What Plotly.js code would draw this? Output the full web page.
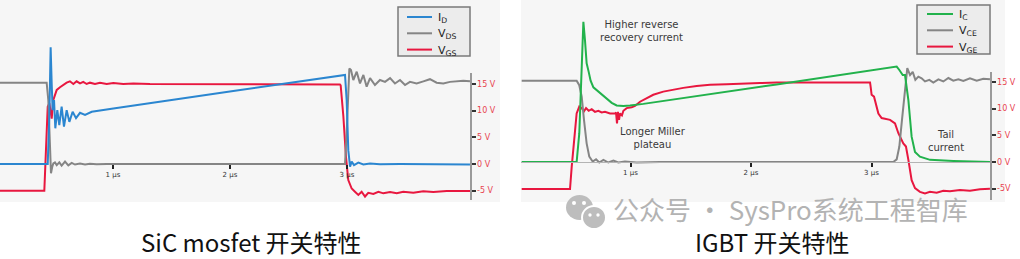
<!DOCTYPE html>
<html>
<head>
<meta charset="utf-8">
<script src="https://cdn.plot.ly/plotly-3.0.1.min.js"></script>
<style>
  html, body { margin: 0; padding: 0; background: #ffffff; }
  #chart { width: 1020px; height: 259px; }
</style>
</head>
<body>
<div id="chart"></div>
<script>
// ---------------- DATA (time in µs, values on the volt scale) ----------------
// SiC MOSFET panel
const sicIdT  = [0.034,0.442,0.456,0.467,0.476,0.484,0.496,0.507,0.524,0.541,0.561,0.581,0.604,0.627,0.655,0.684,0.718,0.761,0.818,0.889,1.003,2.028,2.983,2.997,3.011,3.026,3.040,3.060,3.097,3.140,3.197,3.282,3.453,4.051];
const sicId   = [0,0,8.9,21.9,15.1,10.1,12.0,6.7,10.1,7.3,10.75,7.0,10.1,7.9,9.8,8.6,9.6,9.2,9.8,10.0,10.4,13.7,16.7,12.0,2.6,-0.5,0.45,-0.2,0.25,-0.1,0.1,-0.05,0,-0.1];

const sicVdsT = [0.034,0.433,0.447,0.462,0.470,0.481,0.490,0.504,0.519,0.541,0.561,0.590,0.618,0.647,0.675,0.718,0.761,0.803,0.860,0.946,2.983,2.997,3.011,3.020,3.034,3.054,3.083,3.111,3.140,3.168,3.197,3.239,3.282,3.325,3.368,3.410,3.453,3.496,3.538,3.595,3.653,3.709,3.766,3.823,3.880,3.937,3.994,4.051];
const sicVds  = [15.25,15.25,12.0,2.0,-1.75,-0.5,0.1,0.3,-0.2,0.3,-0.3,0.45,-0.25,0.2,-0.1,0.1,-0.1,0.05,-0.05,0,0,5.75,14.5,17.9,17.6,15.75,17.3,15.1,16.7,14.5,16.1,14.8,15.75,15.4,16.1,15.1,15.75,14.8,15.4,15.1,15.5,15.9,15.25,15.1,15.4,15.5,15.6,15.5];

const sicVgsT = [0.034,0.413,0.427,0.442,0.456,0.467,0.476,0.490,0.504,0.519,0.547,0.575,0.604,0.632,0.661,0.689,0.718,0.746,0.775,0.803,0.846,0.889,0.946,1.003,1.088,1.174,1.316,2.940,2.946,2.969,2.991,3.011,3.040,3.068,3.097,3.125,3.154,3.182,3.225,3.268,3.311,3.368,3.425,3.481,3.567,3.652,3.738,3.852,3.966,4.051];
const sicVgs  = [-5,-5,2.6,10.75,11.4,9.5,8.5,12.0,12.9,13.9,14.4,14.9,15.25,15.5,15.0,15.5,15.1,15.4,15.0,15.25,15.0,15.25,15.0,15.2,15.0,15.1,15.0,14.9,14.75,8.9,1.4,-3.0,-4.6,-5.2,-5.8,-5.2,-6.1,-5.4,-5.6,-5.2,-5.5,-5.25,-5.5,-5.2,-5.4,-5.1,-5.25,-5.06,-5.1,-5.06];

// IGBT panel
const igbtIcT  = [0.097,0.553,0.575,0.592,0.609,0.622,0.636,0.653,0.669,0.692,0.714,0.733,0.761,0.802,0.844,0.885,0.941,0.996,1.107,2.213,3.209,3.231,3.259,3.278,3.306,3.333,3.361,3.402,3.486,3.679,3.983];
const igbtIc   = [0,0,5.4,17.9,26.3,22.9,18.5,16.9,15.25,14.0,13.6,13.2,12.6,11.9,11.1,10.6,10.5,10.6,10.9,14.55,17.9,17.25,16.3,16.3,11.6,4.75,1.9,1.0,0.4,0.2,0];

const igbtVceT = [0.097,0.553,0.575,0.595,0.614,0.636,0.658,0.686,0.714,0.741,0.775,0.816,0.858,0.899,0.954,1.051,1.245,3.181,3.209,3.231,3.253,3.275,3.297,3.320,3.342,3.364,3.389,3.416,3.444,3.480,3.513,3.555,3.596,3.638,3.679,3.721,3.762,3.817,3.873,3.928,3.983];
const igbtVce  = [15.25,15.25,14.4,12.25,7.9,3.5,1.0,0.1,0.5,-0.1,0.4,-0.1,0.25,-0.1,0.1,-0.1,0,0,0.5,2.9,7.9,13.5,17.6,16.3,16.9,15.4,16.0,15.7,15.1,15.4,14.9,15.5,15.1,15.75,15.25,15.5,15.2,15.7,15.25,15.6,15.5];

const igbtVgeT = [0.097,0.498,0.512,0.531,0.553,0.575,0.595,0.614,0.631,0.653,0.678,0.705,0.733,0.761,0.788,0.830,0.871,0.880,0.888,0.896,0.905,0.913,0.929,0.941,0.968,1.010,1.037,1.079,1.134,1.189,1.272,1.355,1.438,1.549,1.660,1.798,1.936,2.075,2.213,2.988,2.993,3.001,3.021,3.057,3.084,3.154,3.195,3.223,3.264,3.286,3.306,3.333,3.361,3.402,3.444,3.485,3.541,3.596,3.651,3.734,3.817,3.900,3.983];
const igbtVge  = [-5.06,-5.06,-0.9,4.1,9.1,10.4,10.1,9.5,10.1,9.6,9.9,9.4,9.6,9.3,9.4,9.1,9.1,9.25,7.25,9.4,7.9,9.1,8.75,9.6,10.1,10.25,10.5,11.3,11.9,12.6,13.2,13.6,13.9,14.25,14.5,14.6,14.75,14.8,14.9,14.9,14.1,12.6,12.25,9.1,8.25,7.9,7.25,5.4,3.5,2.9,0.4,-3.4,-4.9,-5.6,-5.9,-5.6,-5.75,-5.4,-5.5,-5.25,-5.4,-5.1,-5.0];

// Names, colours, ticks, captions
const sicNames   = ['I<sub>D</sub>', 'V<sub>DS</sub>', 'V<sub>GS</sub>'];
const igbtNames  = ['I<sub>C</sub>', 'V<sub>CE</sub>', 'V<sub>GE</sub>'];
const sicColors  = ['#2b86d0', '#858585', '#e8173f'];
const igbtColors = ['#22b24c', '#858585', '#e8173f'];
const timeTickVals = [1, 2, 3];
const timeTickText = ['1 μs', '2 μs', '3 μs'];
const voltTickVals = [-5, 0, 5, 10, 15];
const sicVoltTickText  = ['-5 V', '0 V', '5 V', '10 V', '15 V'];
const igbtVoltTickText = ['-5V', '0 V', '5 V', '10 V', '15 V'];
const captions = ['SiC mosfet 开关特性', 'IGBT 开关特性'];
const notes = [
  {text: 'Higher reverse<br>recovery current', t: 1.095, v: 24.6},
  {text: 'Longer Miller<br>plateau', t: 1.187, v: 4.5},
  {text: 'Tail<br>current', t: 3.618, v: 3.9}
];
const watermark = '公众号 · SysPro系统工程智库';

// ---------------- GEOMETRY (pixels) ----------------
const W = 1020, H = 259;
const PX = p => p / W;
const PY = p => 1 - p / H;

// left panel scale
const L = {x0: 0, x1: 470, t0px: -4, pxPerUs: 117, zeroPy: 164, pxPerV: 16 / 3, top: 0, bot: 202, axTop: 73, axBot: 200};
// right panel scale
const R = {x0: 521, x1: 990, t0px: 510, pxPerUs: 120.5, zeroPy: 162, pxPerV: 16 / 3, top: 0, bot: 202, axTop: 72, axBot: 200};

const tAt = (P, px) => (px - P.t0px) / P.pxPerUs;
const vAt = (P, py) => (P.zeroPy - py) / P.pxPerV;

function xAxis(P, tickText) {
  return {
    domain: [PX(P.x0), PX(P.x1)], range: [tAt(P, P.x0), tAt(P, P.x1)],
    anchor: 'free', position: PY(P.zeroPy),
    showgrid: false, zeroline: false, showline: false,
    ticks: 'outside', ticklen: 4, tickwidth: 2, tickcolor: '#222',
    tickvals: timeTickVals, ticktext: tickText,
    tickfont: {family: 'DejaVu Sans', size: 7, color: '#333'},
    fixedrange: true
  };
}
function yTraceAxis(P, xa) {
  return {
    domain: [PY(P.bot), PY(P.top)], range: [vAt(P, P.bot), vAt(P, P.top)],
    anchor: xa, visible: false, fixedrange: true
  };
}
function yShownAxis(P, xa, tickText, zero) {
  return {
    domain: [PY(P.axBot), PY(P.axTop)], range: [vAt(P, P.axBot), vAt(P, P.axTop)],
    anchor: xa, side: 'right',
    showgrid: false, zeroline: zero, zerolinecolor: '#b4b4b4', zerolinewidth: 1,
    showline: true, linecolor: '#9a9a9a', linewidth: 1.5,
    ticks: 'outside', ticklen: 4, tickwidth: 2, tickcolor: '#333',
    tickvals: voltTickVals, ticktext: tickText,
    tickfont: {family: 'DejaVu Sans', size: 8, color: '#e8424f'},
    fixedrange: true
  };
}

// ---------------- TRACES ----------------
function line(x, y, color, xa, ya) {
  return {type: 'scatter', mode: 'lines', x: x, y: y, xaxis: xa, yaxis: ya,
          line: {color: color, width: 2}, showlegend: false, hoverinfo: 'skip'};
}
const traces = [
  line(sicVgsT, sicVgs, sicColors[2], 'x', 'y'),
  line(sicVdsT, sicVds, sicColors[1], 'x', 'y'),
  line(sicIdT, sicId, sicColors[0], 'x', 'y'),
  line(igbtVgeT, igbtVge, igbtColors[2], 'x2', 'y2'),
  line(igbtVceT, igbtVce, igbtColors[1], 'x2', 'y2'),
  line(igbtIcT, igbtIc, igbtColors[0], 'x2', 'y2'),
  // carriers for the visible voltage axes
  {type: 'scatter', mode: 'lines', x: [null], y: [null], xaxis: 'x', yaxis: 'y3', showlegend: false, hoverinfo: 'skip'},
  {type: 'scatter', mode: 'lines', x: [null], y: [null], xaxis: 'x2', yaxis: 'y4', showlegend: false, hoverinfo: 'skip'}
];

// ---------------- SHAPES & ANNOTATIONS ----------------
const shapes = [];
const annotations = [];

// panel backgrounds
shapes.push({type: 'rect', xref: 'paper', yref: 'paper', layer: 'below',
  x0: PX(0), x1: PX(500), y0: PY(202), y1: PY(0), fillcolor: '#f6f6f6', line: {width: 0}});
shapes.push({type: 'rect', xref: 'paper', yref: 'paper', layer: 'below',
  x0: PX(521), x1: PX(1005), y0: PY(202), y1: PY(0), fillcolor: '#f6f6f6', line: {width: 0}});

// legends (box + samples + labels)
function legend(box, names, colors) {
  shapes.push({type: 'rect', xref: 'paper', yref: 'paper', layer: 'above',
    x0: PX(box.x0), x1: PX(box.x1), y0: PY(box.y1), y1: PY(box.y0),
    fillcolor: '#ececec', line: {color: '#7a7a7a', width: 1.5}});
  names.forEach((n, i) => {
    const yy = box.row0 + i * box.dy;
    shapes.push({type: 'line', xref: 'paper', yref: 'paper', layer: 'above',
      x0: PX(box.lx0), x1: PX(box.lx1), y0: PY(yy), y1: PY(yy),
      line: {color: colors[i], width: 2}});
    annotations.push({xref: 'paper', yref: 'paper', x: PX(box.tx), y: PY(yy + 1),
      xanchor: 'left', yanchor: 'middle', showarrow: false, text: n,
      font: {family: 'DejaVu Sans', size: 11, color: '#222'}});
  });
}
legend({x0: 398, x1: 470, y0: 7, y1: 56, row0: 17, dy: 16.3, lx0: 407, lx1: 432, tx: 436}, sicNames, sicColors);
legend({x0: 917, x1: 990, y0: 5, y1: 54, row0: 14, dy: 16.3, lx0: 927, lx1: 953, tx: 957}, igbtNames, igbtColors);

// annotations on the IGBT panel
notes.forEach(n => annotations.push({xref: 'x2', yref: 'y2', x: n.t, y: n.v,
  xanchor: 'center', yanchor: 'middle', showarrow: false, text: n.text,
  font: {family: 'DejaVu Sans', size: 10, color: '#3a3a3a'}}));

// watermark icon (two speech bubbles)
shapes.push({type: 'circle', xref: 'paper', yref: 'paper', layer: 'above',
  x0: PX(566), x1: PX(593), y0: PY(220), y1: PY(195), fillcolor: '#bdbdbd', line: {width: 0}});
shapes.push({type: 'circle', xref: 'paper', yref: 'paper', layer: 'above',
  x0: PX(582), x1: PX(606), y0: PY(229), y1: PY(206), fillcolor: '#bdbdbd', line: {color: '#ffffff', width: 2}});
[[574, 203], [584, 203]].forEach(p => shapes.push({type: 'circle', xref: 'paper', yref: 'paper', layer: 'above',
  x0: PX(p[0] - 2), x1: PX(p[0] + 2), y0: PY(p[1] + 2), y1: PY(p[1] - 2), fillcolor: '#ffffff', line: {width: 0}}));
[[590, 215], [598, 215]].forEach(p => shapes.push({type: 'circle', xref: 'paper', yref: 'paper', layer: 'above',
  x0: PX(p[0] - 1.7), x1: PX(p[0] + 1.7), y0: PY(p[1] + 1.7), y1: PY(p[1] - 1.7), fillcolor: '#ffffff', line: {width: 0}}));

annotations.push({xref: 'paper', yref: 'paper', x: PX(611), y: PY(208), xanchor: 'left', yanchor: 'middle',
  showarrow: false, text: watermark,
  font: {family: 'Noto Sans CJK SC', size: 26, color: '#b3b3b3'}});

// captions
annotations.push({xref: 'paper', yref: 'paper', x: PX(251), y: PY(241), xanchor: 'center', yanchor: 'middle',
  showarrow: false, text: captions[0], font: {family: 'Noto Sans CJK SC', size: 24, color: '#111'}});
annotations.push({xref: 'paper', yref: 'paper', x: PX(772), y: PY(241), xanchor: 'center', yanchor: 'middle',
  showarrow: false, text: captions[1], font: {family: 'Noto Sans CJK SC', size: 24, color: '#111'}});

const layout = {
  width: W, height: H,
  margin: {l: 0, r: 0, t: 0, b: 0, pad: 0},
  paper_bgcolor: '#ffffff', plot_bgcolor: 'rgba(0,0,0,0)',
  showlegend: false,
  xaxis: xAxis(L, timeTickText),
  yaxis: yTraceAxis(L, 'x'),
  yaxis3: yShownAxis(L, 'x', sicVoltTickText, false),
  xaxis2: xAxis(R, timeTickText),
  yaxis2: yTraceAxis(R, 'x2'),
  yaxis4: yShownAxis(R, 'x2', igbtVoltTickText, true),
  shapes: shapes,
  annotations: annotations
};

Plotly.newPlot('chart', traces, layout, {staticPlot: true, displayModeBar: false});
</script>
</body>
</html>
